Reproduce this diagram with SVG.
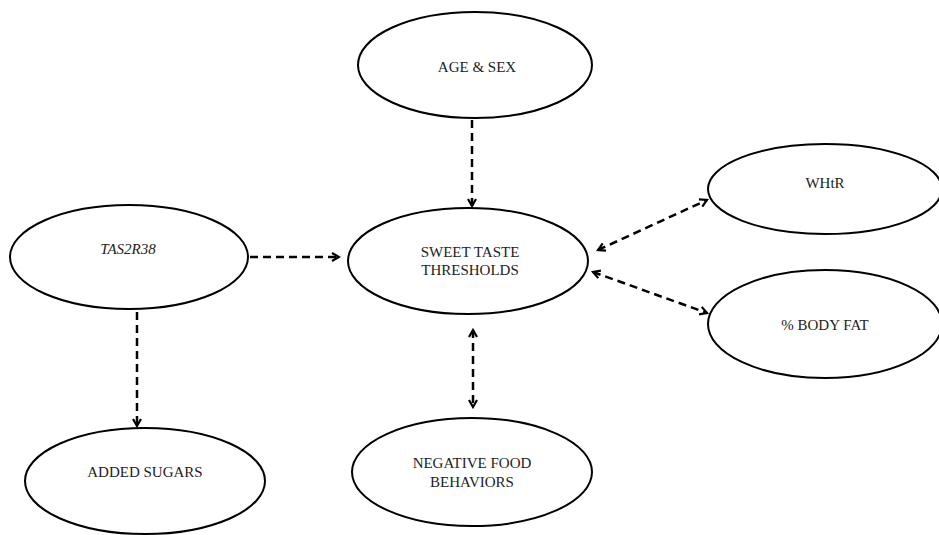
<svg xmlns="http://www.w3.org/2000/svg" width="939" height="535" viewBox="0 0 939 535">
  <style>
    .node ellipse { fill: #ffffff; stroke: #000000; stroke-width: 2; }
    .node text { font-family: "Liberation Serif", "Times New Roman", serif; font-size: 15px; fill: #222222; text-anchor: middle; }
    .node text.gene { font-style: italic; }
    .edge { fill: none; stroke: #000000; stroke-width: 2.5; stroke-dasharray: 8 5; }
  </style>
  <defs>
    <marker id="head" markerUnits="userSpaceOnUse" viewBox="0 0 10 10" refX="8" refY="5" markerWidth="10" markerHeight="10" orient="auto-start-reverse">
      <path d="M1,1 L8,5 L1,9" fill="none" stroke="#000000" stroke-width="2.2" stroke-linejoin="miter"/>
    </marker>
  </defs>

  <rect width="939" height="535" fill="#ffffff"/>

  <g id="connectors">
    <line class="edge" x1="472" y1="120" x2="472" y2="206" marker-end="url(#head)"/>
    <line class="edge" x1="250" y1="257" x2="339" y2="257" marker-end="url(#head)"/>
    <line class="edge" x1="137" y1="312" x2="137" y2="426" marker-end="url(#head)"/>
    <line class="edge" x1="598" y1="250" x2="707" y2="200" marker-start="url(#head)" marker-end="url(#head)"/>
    <line class="edge" x1="593" y1="272" x2="707" y2="313" marker-start="url(#head)" marker-end="url(#head)"/>
    <line class="edge" x1="473" y1="330" x2="473" y2="407" marker-start="url(#head)" marker-end="url(#head)"/>
  </g>

  <g id="age-sex" class="node">
    <ellipse cx="475" cy="65" rx="117" ry="53"/>
    <text x="477" y="72">AGE &amp; SEX</text>
  </g>

  <g id="tas2r38" class="node">
    <ellipse cx="129" cy="257" rx="119" ry="52"/>
    <text class="gene" x="128" y="254">TAS2R38</text>
  </g>

  <g id="sweet-taste" class="node">
    <ellipse cx="468" cy="261" rx="120" ry="53"/>
    <text x="470" y="257">SWEET TASTE</text>
    <text x="470" y="275">THRESHOLDS</text>
  </g>

  <g id="whtr" class="node">
    <ellipse cx="825" cy="189" rx="117" ry="45"/>
    <text x="825" y="188">WHtR</text>
  </g>

  <g id="body-fat" class="node">
    <ellipse cx="825" cy="324" rx="117" ry="54"/>
    <text x="825" y="330">% BODY FAT</text>
  </g>

  <g id="added-sugars" class="node">
    <ellipse cx="145" cy="481" rx="120" ry="53"/>
    <text x="145" y="477">ADDED SUGARS</text>
  </g>

  <g id="negative-food" class="node">
    <ellipse cx="472" cy="472" rx="120" ry="54"/>
    <text x="472" y="468">NEGATIVE FOOD</text>
    <text x="472" y="487">BEHAVIORS</text>
  </g>
</svg>
